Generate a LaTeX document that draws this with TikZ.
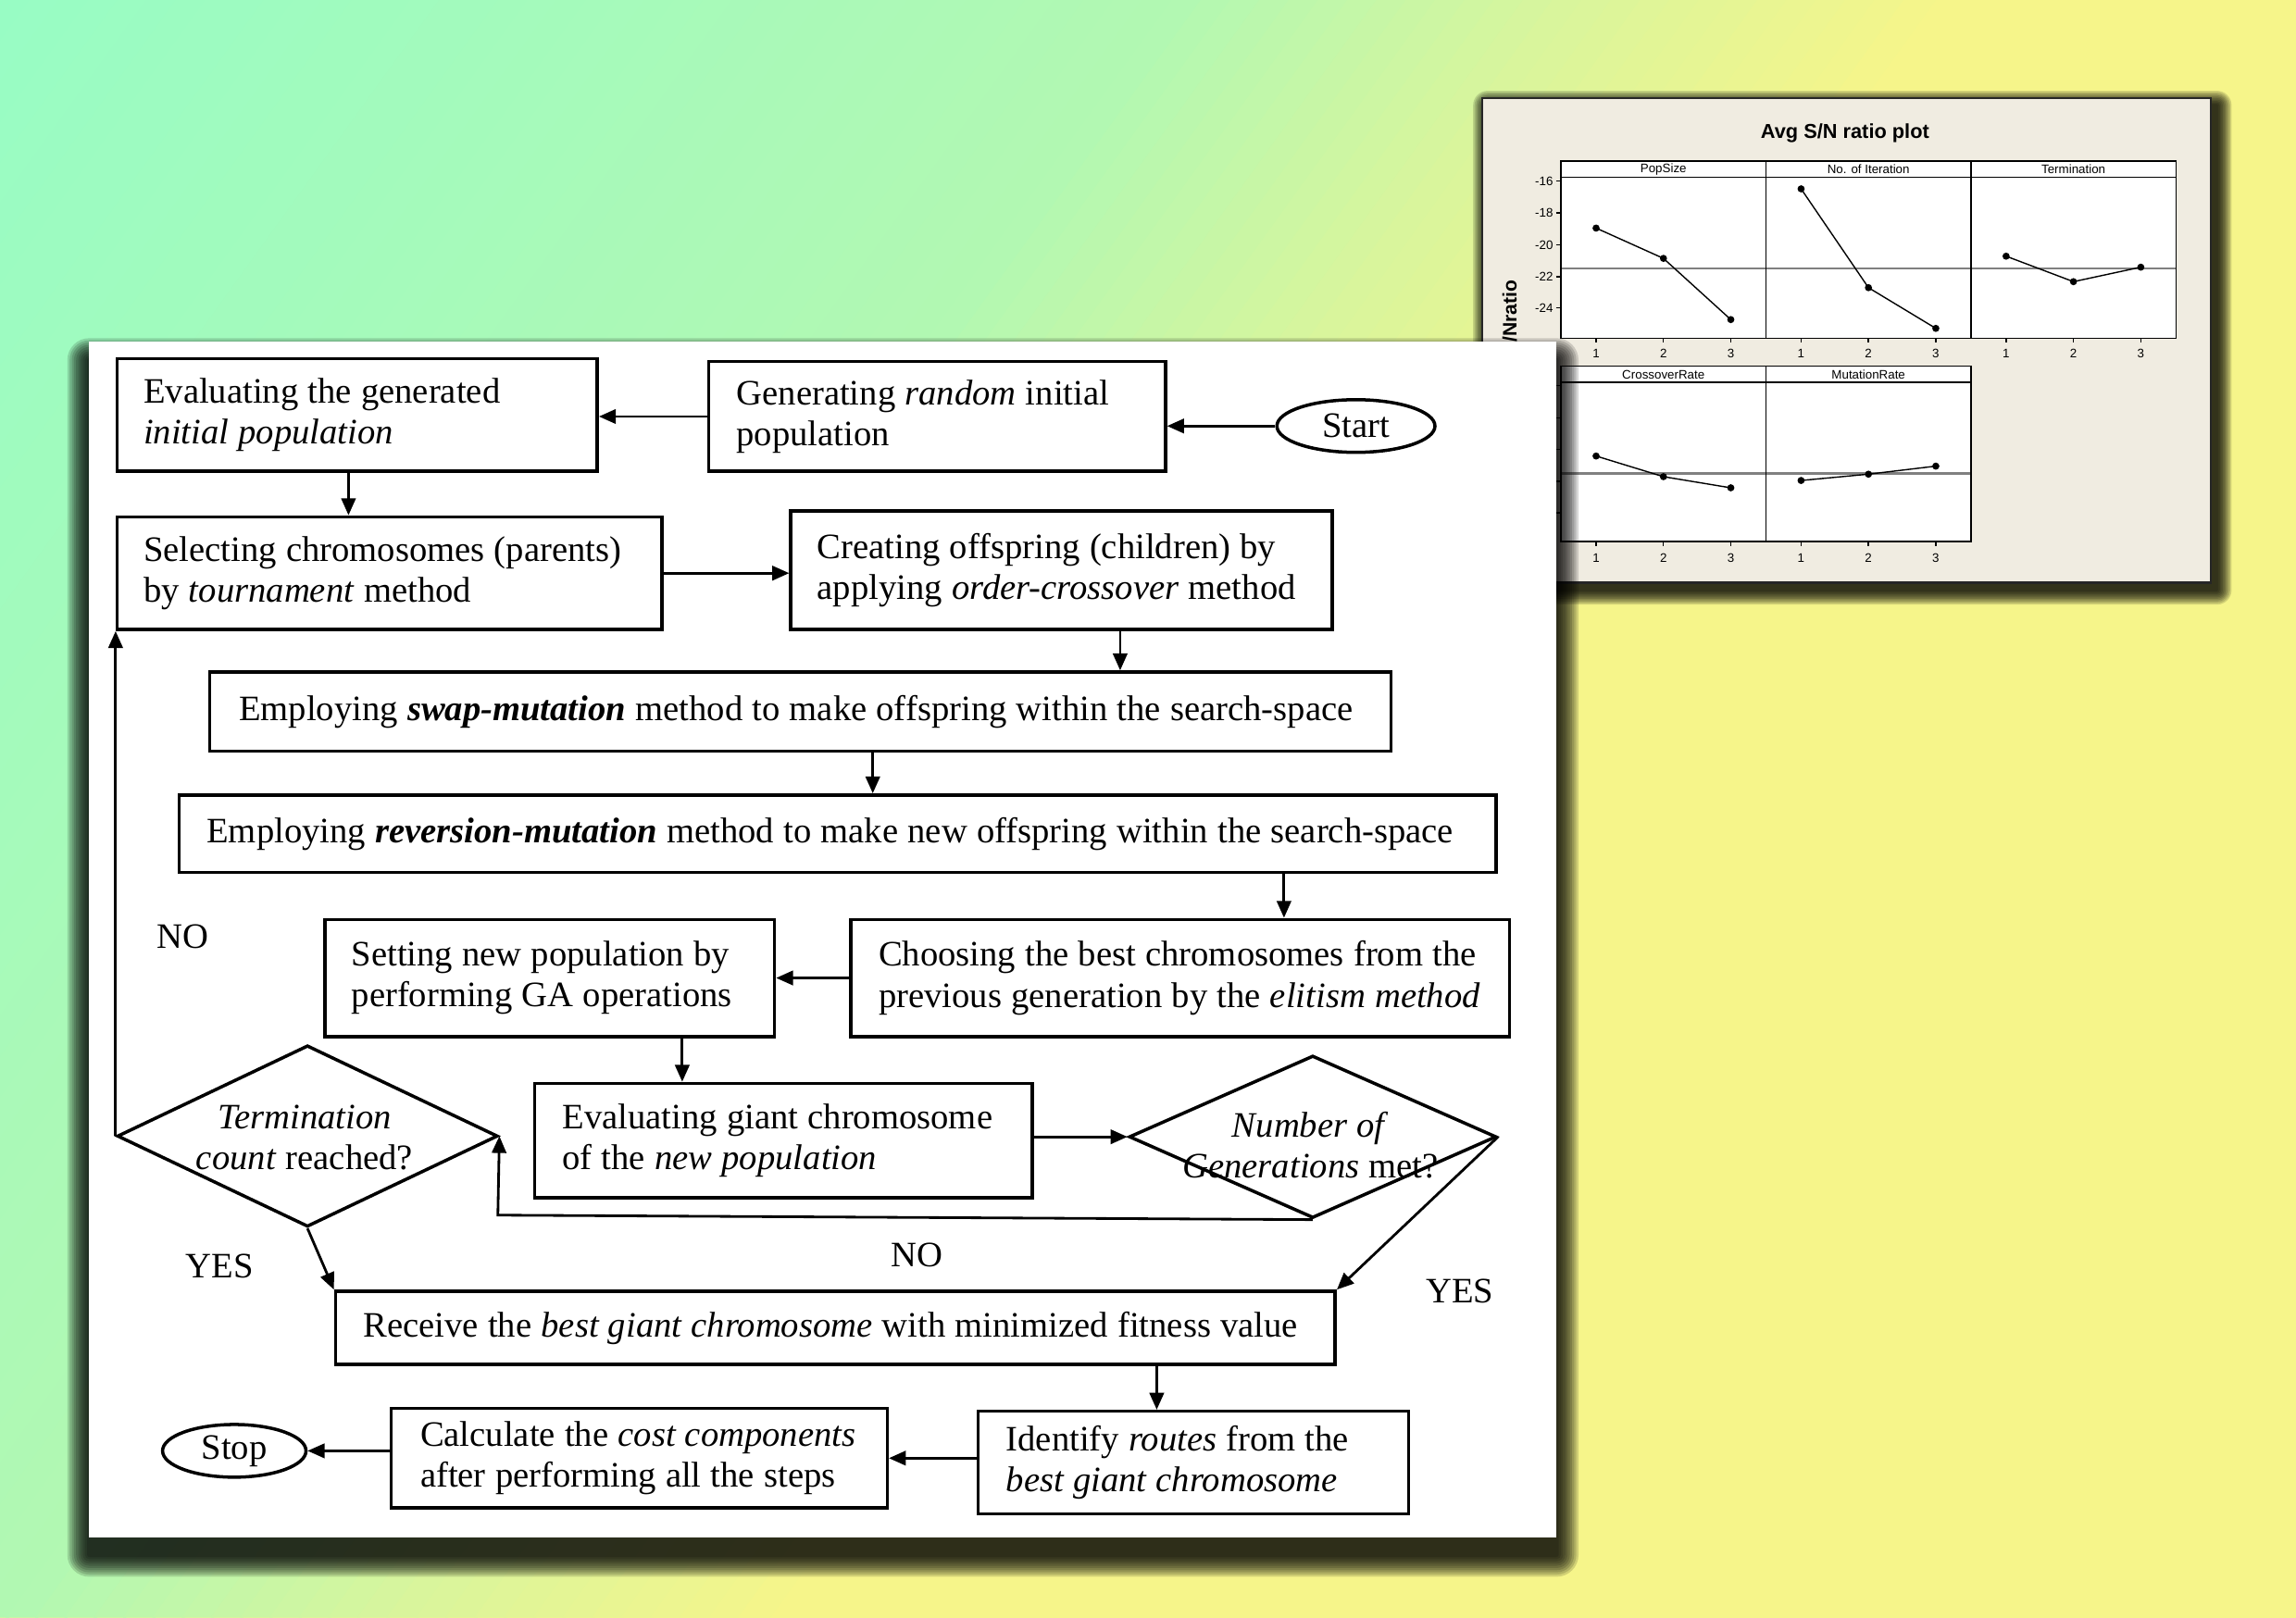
\documentclass[tikz,border=0pt]{standalone}
\usepackage{fontspec}
\setmainfont{Liberation Serif}
\newfontfamily\chartfont{Liberation Sans}
\usetikzlibrary{shapes.geometric,arrows.meta}
\definecolor{mint}{HTML}{98FCC4}
\definecolor{lgreen}{HTML}{B2F8B2}
\definecolor{ygreen}{HTML}{D9F59C}
\definecolor{byellow}{HTML}{F6F58A}
\definecolor{chartbg}{HTML}{F0ECE1}
\newcommand\ffont{\fontsize{11}{12.6}\selectfont}
\newcommand\fixspace{\spaceskip=2.9pt plus 1pt minus 0.5pt\relax\xspaceskip=3.2pt plus 1pt minus 0.5pt\relax}
\newcommand\mkshadow[6]{%
  \foreach \k in {1,...,10}{%
    \pgfmathsetmacro\rr{#5*(1.1-\k/10)}%
    \pgfmathsetlengthmacro\rc{\rr*0.45pt}%
    \fill[black,opacity=#6,rounded corners=\rc] (#1-\rr,#2-\rr) rectangle (#3+\rr,#4+\rr);}}
\begin{document}
\begin{tikzpicture}[x=0.015816cm,y=-0.015816cm,
  box/.style={draw, line width=1pt, fill=white, align=left, font=\ffont, inner ysep=0pt, execute at begin node=\fixspace},
  oval/.style={draw, ellipse, line width=1pt, fill=white, inner sep=0pt, font=\ffont, minimum height=16.2pt},
  dia/.style={draw, diamond, line width=1pt, inner sep=0pt},
  arr/.style={-{Triangle[length=5.2pt,width=4.4pt]}, line width=0.8pt},
  lbl/.style={font=\ffont, inner sep=0pt, execute at begin node=\fixspace},
  ctext/.style={font=\chartfont\fontsize{3.8}{4.2}\selectfont, inner sep=0pt},
  cline/.style={line width=0.4pt, black},
]
\useasboundingbox (0,0) rectangle (1568,1105);
% ---------- background ----------
\fill[byellow] (0,0) rectangle (1568,1105);
\begin{scope}
\clip (0,0) rectangle (1568,1105);
\fill[mint] (-1000,0) -- (0,0) -- (-796,1105) -- (-1796,1105) -- cycle;
\foreach \t in {0,20,...,780}{\pgfmathsetmacro\p{\t/8}%
  \fill[lgreen!\p!mint] (\t,0) -- ++(22,0) -- ++(-796,1105) -- ++(-22,0) -- cycle;}
\foreach \t in {800,820,...,1040}{\pgfmathsetmacro\p{(\t-800)/2.6}%
  \fill[ygreen!\p!lgreen] (\t,0) -- ++(22,0) -- ++(-796,1105) -- ++(-22,0) -- cycle;}
\foreach \t in {1060,1080,...,1300}{\pgfmathsetmacro\p{(\t-1060)/2.6}%
  \fill[byellow!\p!ygreen] (\t,0) -- ++(22,0) -- ++(-796,1105) -- ++(-22,0) -- cycle;}
\end{scope}
% ---------- chart ----------
\mkshadow{1016}{72}{1514}{403}{10}{0.14}
\fill[chartbg, draw=black!85, line width=0.6pt] (1012,67) rectangle (1510,398);
\node[font=\chartfont\bfseries\fontsize{6.2}{7}\selectfont, inner sep=0pt] (ctitle) at (1260,91) {Avg S/N ratio plot};
\fill[white] (1066,110) rectangle (1486,231);
\fill[white] (1066,250) rectangle (1346,370);
\draw[gray, line width=0.7pt] (1066,183.4) -- (1486,183.4);
\draw[gray, line width=0.7pt] (1066,323.3) -- (1346,323.3);
\draw[cline] (1066,110) rectangle (1486,231);
\draw[cline] (1066,121) -- (1486,121) (1206,110) -- (1206,231) (1346,110) -- (1346,231);
\draw[cline] (1066,250) rectangle (1346,370);
\draw[cline] (1066,261) -- (1346,261) (1206,250) -- (1206,370);
\node[ctext] (h1) at (1136,115.7) {PopSize};
\node[ctext] (h2) at (1276,115.7) {No. of Iteration};
\node[ctext] (h3) at (1416,115.7) {Termination};
\node[ctext] (h4) at (1136,255.7) {CrossoverRate};
\node[ctext] (h5) at (1276,255.7) {MutationRate};
\foreach \v/\yy [count=\i] in {-16/123.7,-18/145.5,-20/167.3,-22/189,-24/210.4}{
  \draw[cline] (1062.5,\yy) -- (1066,\yy);
  \draw[cline] (1062.5,\yy+139.8) -- (1066,\yy+139.8);
  \node[ctext, anchor=east] (yt\i) at (1061,\yy) {\v};}
\foreach \px [count=\j] in {1066,1206,1346}{
  \foreach \l in {1,2,3}{\pgfmathsetmacro\xx{\px+24+46*(\l-1)}
    \draw[cline] (\xx,231) -- (\xx,234);
    \node[ctext] (xt\j\l) at (\xx,241.5) {\l};}}
\foreach \px [count=\j] in {1066,1206}{
  \foreach \l in {1,2,3}{\pgfmathsetmacro\xx{\px+24+46*(\l-1)}
    \draw[cline] (\xx,370) -- (\xx,373);
    \node[ctext] (xb\j\l) at (\xx,381) {\l};}}
\foreach \px/\a/\b/\c in {1066/155.8/176.5/218.3, 1206/129.0/196.5/224.3, 1346/175.0/192.4/182.5, 1066/311.5/325.6/333.2, 1206/328.2/323.9/318.4}{
  \draw[cline] (\px+24,\a) -- (\px+70,\b) -- (\px+116,\c);
  \fill (\px+24,\a) circle[radius=1.1pt];
  \fill (\px+70,\b) circle[radius=1.1pt];
  \fill (\px+116,\c) circle[radius=1.1pt];}
\node[rotate=90, anchor=east, font=\chartfont\bfseries\fontsize{6}{7}\selectfont, inner sep=0pt] (ylab) at (1031,191) {S/Nratio};
% ---------- flowchart panel ----------
\mkshadow{61}{246}{1063}{1062}{15}{0.15}
\fill[white] (61,233) rectangle (1063,1050);
% boxes
\node[box, text width=131.4pt, inner xsep=8.1pt, minimum height=34.65pt] (eval) at (244,283.5)
  {\mbox{Evaluating the generated}\\\mbox{\textit{initial population}}};
\node[box, text width=123.3pt, inner xsep=8.55pt, minimum height=33.75pt] (gen) at (640,284.5)
  {\mbox{Generating \textit{random} initial}\\\mbox{population}};
\node[oval, minimum width=48.6pt] (start) at (926,291) {Start};
\node[box, text width=151.2pt, inner xsep=8.1pt, minimum height=34.65pt] (select) at (266,391.5)
  {\mbox{Selecting chromosomes (parents)}\\\mbox{by \textit{tournament} method}};
\node[box, text width=150.3pt, inner xsep=8.1pt, minimum height=36.45pt] (create) at (725,389.5)
  {\mbox{Creating offspring (children) by}\\\mbox{applying \textit{order-crossover} method}};
\node[box, text width=345.15pt, inner xsep=9pt, minimum height=24.3pt] (swap) at (546.5,486)
  {\mbox{Employing \textbf{\textit{swap-mutation}} method to make offspring within the search-space}};
\node[box, text width=387.9pt, inner xsep=8.55pt, minimum height=23.85pt] (rev) at (572,569.5)
  {\mbox{Employing \textbf{\textit{reversion-mutation}} method to make new offspring within the search-space}};
\node[box, text width=121.95pt, inner xsep=8.1pt, minimum height=36pt] (setpop) at (375.5,668)
  {\mbox{Setting new population by}\\\mbox{performing GA operations}};
\node[box, text width=185.4pt, inner xsep=8.55pt, minimum height=36pt] (choose) at (806,668)
  {\mbox{Choosing the best chromosomes from the}\\\mbox{previous generation by the \textit{elitism method}}};
\node[dia, minimum width=117pt, minimum height=55.8pt] (term) at (210,776) {};
\node[lbl, align=center] (termtxt) at (208,777) {\textit{Termination}\\\textit{count} reached?};
\node[box, text width=135.9pt, inner xsep=8.55pt, minimum height=35.1pt] (evalgiant) at (535,779)
  {\mbox{Evaluating giant chromosome}\\\mbox{of the \textit{new population}}};
\node[dia, minimum width=112.95pt, minimum height=49.95pt] (numgen) at (896.5,776.5) {};
\node[lbl, align=center] (numgentxt) at (895,782) {\textit{Number of}\\\textit{Generations} met?};
\node[box, text width=290.25pt, inner xsep=8.55pt, minimum height=22.5pt] (receive) at (570.5,907)
  {\mbox{Receive the \textit{best giant chromosome} with minimized fitness value}};
\node[box, text width=115.2pt, inner xsep=8.55pt, minimum height=31.5pt] (identify) at (815,999)
  {\mbox{Identify \textit{routes} from the}\\\mbox{\textit{best giant chromosome}}};
\node[box, text width=134.55pt, inner xsep=9pt, minimum height=30.6pt] (calc) at (436.5,996)
  {\mbox{Calculate the \textit{cost components}}\\\mbox{after performing all the steps}};
\node[oval, minimum width=44.1pt] (stop) at (160,991) {Stop};
% labels
\node[lbl] (no1) at (125,640) {NO};
\node[lbl] (yes1) at (150,865) {YES};
\node[lbl] (no2) at (626,857) {NO};
\node[lbl] (yes2) at (997,882) {YES};
% connectors
\draw[arr] (gen.west) -- (gen.west -| eval.east);
\draw[arr] (start.west) -- (start.west -| gen.east);
\draw[arr] ([xshift=-2.7pt]eval.south) -- ([xshift=-2.7pt]eval.south |- select.north);
\draw[arr] (select.east) -- (select.east -| create.west);
\draw[arr] ([xshift=18pt]create.south) -- ([xshift=18pt]create.south |- swap.north);
\draw[arr] ([xshift=22.3pt]swap.south) -- ([xshift=22.3pt]swap.south |- rev.north);
\draw[arr] ([xshift=137.25pt]rev.south) -- ([xshift=137.25pt]rev.south |- choose.north);
\draw[arr] (choose.west) -- (choose.west -| setpop.east);
\draw[arr] ([xshift=40.7pt]setpop.south) -- ([xshift=40.7pt]setpop.south |- evalgiant.north);
\draw[arr] (evalgiant.east |- numgen.west) -- (numgen.west);
\coordinate (nocorner) at (340,830);
\draw[arr] (numgen.south) -- (nocorner) -- (term.east);
\draw[arr] (term.west) -- (term.west |- select.south);
\draw[arr] (term.south) -- (receive.north west);
\draw[arr] (numgen.east) -- (receive.north east);
\draw[arr] ([xshift=98.8pt]receive.south) -- ([xshift=98.8pt]receive.south |- identify.north);
\draw[arr] (calc.east -| identify.west) -- (calc.east);
\draw[arr] (stop.east -| calc.west) -- (stop.east);
\end{tikzpicture}
\end{document}
